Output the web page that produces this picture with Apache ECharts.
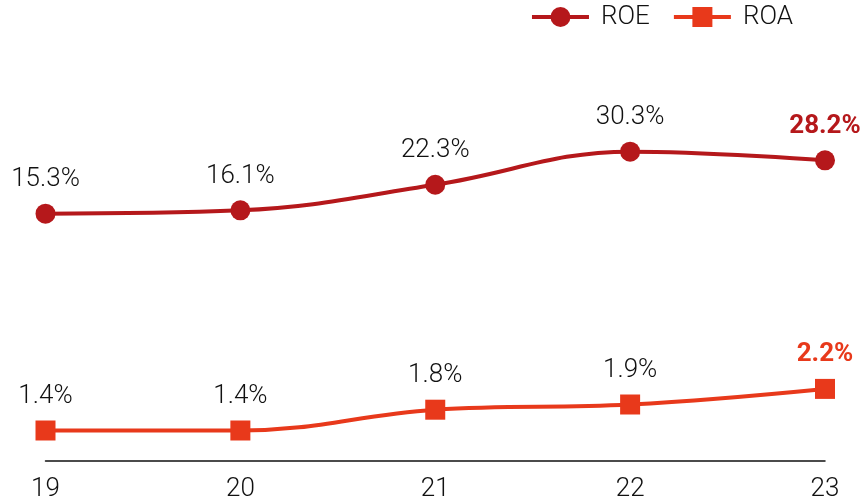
<!DOCTYPE html>
<html>
<head>
<meta charset="utf-8">
<script src="https://cdn.jsdelivr.net/npm/echarts@6/dist/echarts.min.js"></script>
<style>
  html, body { margin: 0; padding: 0; background: #fff; }
  #chart { width: 868px; height: 502px; }
</style>
</head>
<body>
<div id="chart"></div>
<script>
// ----------data----------
const years = ['19', '20', '21', '22', '23'];
const roe = [15.3, 16.1, 22.3, 30.3, 28.2];
const roa = [1.4, 1.4, 1.8, 1.9, 2.2];
// ------------------------

const ROE_COLOR = '#b5181b';
const ROA_COLOR = '#e8391b';
const FONT = 'Roboto';

// 最後一筆標籤加粗並套用系列顏色
const withLastHighlight = (arr, color) =>
  arr.map((v, i) =>
    i === arr.length - 1
      ? { value: v, label: { fontWeight: 'bold', color } }
      : v
  );

const chart = echarts.init(document.getElementById('chart'));

chart.setOption({
  animation: false,
  backgroundColor: '#fff',
  textStyle: { fontFamily: FONT },
  grid: { left: 45.5, right: 43, top: 40, bottom: 41 },
  legend: {
    right: 75,
    top: 4,
    padding: 0,
    itemWidth: 57,
    itemHeight: 25,
    itemGap: 22,
    lineStyle: { width: 4 },
    textStyle: { fontFamily: FONT, fontSize: 26, fontWeight: 300, color: '#111', padding: [0, 0, 0, 7] },
    data: ['ROE', 'ROA'],
  },
  xAxis: {
    type: 'category',
    data: years,
    boundaryGap: false,
    axisLine: { onZero: false, lineStyle: { color: '#111', width: 1.5 } },
    axisTick: { show: false },
    axisLabel: { fontFamily: FONT, fontSize: 26, fontWeight: 300, color: '#111', margin: 15 },
  },
  yAxis: [
    { type: 'value', min: -44.53, max: 57.31, show: false, splitLine: { show: false } },
    { type: 'value', min: 0.8135, max: 8.9096, show: false, splitLine: { show: false } },
  ],
  series: [
    {
      name: 'ROE',
      type: 'line',
      yAxisIndex: 0,
      smooth: 0.4,
      symbol: 'circle',
      symbolSize: 20,
      color: ROE_COLOR,
      lineStyle: { width: 4, color: ROE_COLOR },
      itemStyle: { color: ROE_COLOR },
      label: {
        show: true,
        position: 'top',
        distance: 11,
        fontFamily: FONT,
        fontSize: 26,
        fontWeight: 300,
        color: '#111',
        formatter: (p) => p.value.toFixed(1) + '%',
      },
      data: withLastHighlight(roe, ROE_COLOR),
    },
    {
      name: 'ROA',
      type: 'line',
      yAxisIndex: 1,
      smooth: 0.4,
      symbol: 'rect',
      symbolSize: 20,
      color: ROA_COLOR,
      lineStyle: { width: 4, color: ROA_COLOR },
      itemStyle: { color: ROA_COLOR },
      label: {
        show: true,
        position: 'top',
        distance: 11,
        fontFamily: FONT,
        fontSize: 26,
        fontWeight: 300,
        color: '#111',
        formatter: (p) => p.value.toFixed(1) + '%',
      },
      data: withLastHighlight(roa, ROA_COLOR),
    },
  ],
});
</script>
</body>
</html>
